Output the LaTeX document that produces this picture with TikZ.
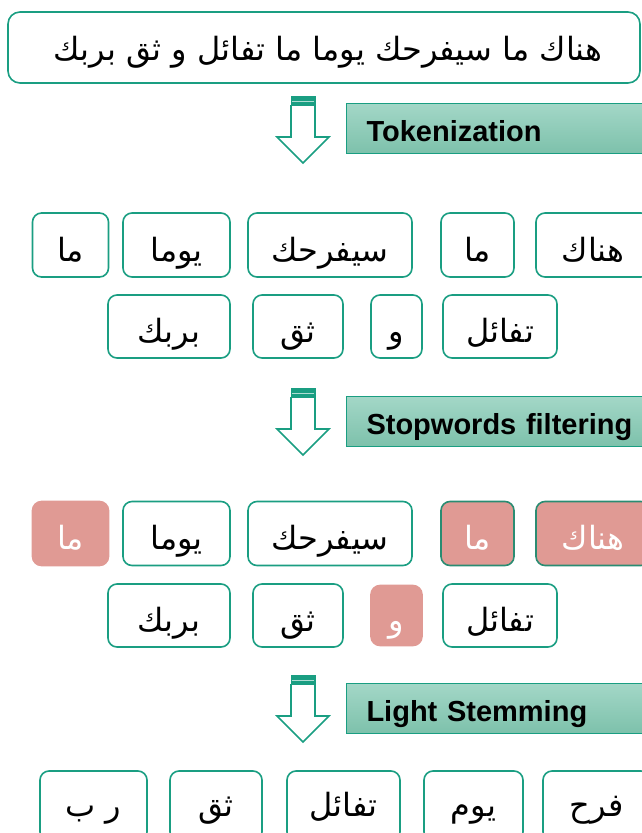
\documentclass[tikz,border=0pt]{standalone}
\usepackage{fontspec}
\setmainfont{Liberation Sans}
\newfontfamily\arabicfont[Script=Arabic]{DejaVu Sans}
\TeXXeTstate=1
\usetikzlibrary{shadings}
\definecolor{tealline}{HTML}{1A9E82}
\definecolor{tealdark}{HTML}{2A8C72}
\definecolor{salmon}{HTML}{E09A94}
\definecolor{lbltop}{HTML}{A3D7C7}
\definecolor{lblbot}{HTML}{7DC1AB}
\newcommand\artxt[1]{\arabicfont\beginR #1\endR}
\newcommand\dnarrow[2]{%
  \fill[tealline] (#1-12.5,#2) rectangle (#1+12.5,#2+10);
  \draw[tealline!35!white, line width=0.8] (#1-11,#2+5) -- (#1+11,#2+5);
  \draw[tealline, line width=1.6, line join=miter]
    (#1-12,#2+9) -- (#1-12,#2+41) -- (#1-26,#2+41) -- (#1,#2+67)
    -- (#1+26,#2+41) -- (#1+12,#2+41) -- (#1+12,#2+9);
}
\tikzset{
  tok/.style={draw=tealline, line width=1.6, rounded corners=9pt, fill=white,
    font=\fontsize{32}{36}\selectfont, inner sep=0pt, text height=32pt, text depth=0pt},
  lasttok/.style={tok, text height=20pt, text depth=0pt},
  stopbox/.style={tok, draw=tealdark, fill=salmon, text=white},
  stopnb/.style={tok, draw=salmon, fill=salmon, text=white},
  lbl/.style={draw=tealline, line width=1, top color=lbltop, bottom color=lblbot,
    minimum height=50, text width=290, inner xsep=20, inner ysep=0pt,
    align=left, text height=26pt, text depth=0pt,
    font=\bfseries\fontsize{29}{32}\selectfont, anchor=north west},
  sent/.style={draw=tealline, line width=1.6, rounded corners=12pt,
    minimum width=632, minimum height=71}
}
\begin{document}
\begin{tikzpicture}[x=1pt,y=-1pt]
\useasboundingbox (0,0) rectangle (642,833);
\node[sent] (s) at (324,47.5) {};
\node[font=\fontsize{32}{36}\selectfont, inner sep=0pt, text height=26pt, text depth=0pt]
  (st) at (s.center) [xshift=4pt] {\artxt{هناك ما سيفرحك يوما ما تفائل و ثق بربك}};

\dnarrow{303}{96}
\node[lbl] (l1) at (346,103) {Tokenization};

% row 1
\node[tok, minimum width=114, minimum height=64] (a1) at (593,245) {\artxt{هناك}};
\node[tok, minimum width=73, minimum height=64] (a2) at (477.5,245) {\artxt{ما}};
\node[tok, minimum width=164, minimum height=64] (a3) at (330,245) {\artxt{سيفرحك}};
\node[tok, minimum width=107, minimum height=64] (a4) at (176.5,245) {\artxt{يوما}};
\node[tok, minimum width=76, minimum height=64] (a5) at (70.5,245) {\artxt{ما}};
% row 2
\node[tok, minimum width=114, minimum height=63] (a6) at (500,326.5) {\artxt{تفائل}};
\node[tok, minimum width=51, minimum height=63] (a7) at (396.5,326.5) {\artxt{و}};
\node[tok, minimum width=90, minimum height=63] (a8) at (298,326.5) {\artxt{ثق}};
\node[tok, minimum width=122, minimum height=63] (a9) at (169,326.5) {\artxt{بربك}};

\dnarrow{303}{388}
\node[lbl] (l2) at (346,396) {Stopwords filtering};

% row 3
\node[stopbox, minimum width=114, minimum height=64] (b1) at (593,533.5) {\artxt{هناك}};
\node[stopbox, minimum width=73, minimum height=64] (b2) at (477.5,533.5) {\artxt{ما}};
\node[tok, minimum width=164, minimum height=64] (b3) at (330,533.5) {\artxt{سيفرحك}};
\node[tok, minimum width=107, minimum height=64] (b4) at (176.5,533.5) {\artxt{يوما}};
\node[stopnb, minimum width=76, minimum height=64] (b5) at (70.5,533.5) {\artxt{ما}};
% row 4
\node[tok, minimum width=114, minimum height=63] (b6) at (500,615.5) {\artxt{تفائل}};
\node[stopnb, minimum width=51, minimum height=60] (b7) at (396.5,615.5) {\artxt{و}};
\node[tok, minimum width=90, minimum height=63] (b8) at (298,615.5) {\artxt{ثق}};
\node[tok, minimum width=122, minimum height=63] (b9) at (169,615.5) {\artxt{بربك}};

\dnarrow{303}{675}
\node[lbl] (l3) at (346,683) {Light Stemming};

% row 5
\node[lasttok, minimum width=107, minimum height=70] (c1) at (596.5,806) {\artxt{فرح}};
\node[lasttok, minimum width=99, minimum height=70] (c2) at (473.5,806) {\artxt{يوم}};
\node[lasttok, minimum width=113, minimum height=70] (c3) at (343.5,806) {\artxt{تفائل}};
\node[lasttok, minimum width=92, minimum height=70] (c4) at (216,806) {\artxt{ثق}};
\node[lasttok, minimum width=107, minimum height=70] (c5) at (93.5,806) {\artxt{ر ب}};
\end{tikzpicture}
\end{document}
